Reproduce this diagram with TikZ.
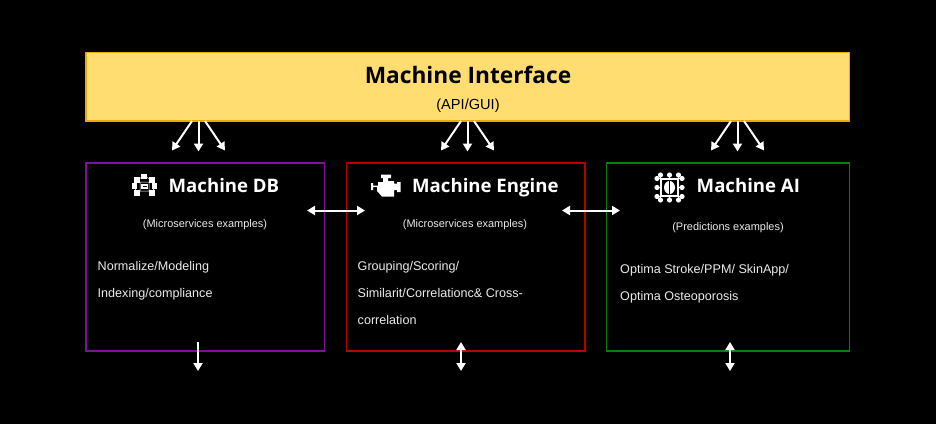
\documentclass[tikz,border=0pt]{standalone}
\usepackage{fontspec}
\setmainfont{Liberation Sans}
\newfontfamily\headfont{Open Sans}
\usetikzlibrary{arrows.meta}
\definecolor{band}{HTML}{FFDD71}
\definecolor{bandedge}{HTML}{E6AC00}
\definecolor{dbedge}{HTML}{800F9A}
\definecolor{engedge}{HTML}{B80000}
\definecolor{aiedge}{HTML}{0B7D0B}
\tikzset{
  panel/.style={draw, line width=1.9pt, minimum width=238.5pt, minimum height=188pt, anchor=north west, inner sep=0pt, outer sep=0pt},
  paneltitle/.style={text=white, font=\headfont\bfseries\fontsize{18.6}{22}\selectfont, anchor=base west, inner sep=0pt},
  subtitle/.style={text=white!92!black, font=\fontsize{10.95}{13}\selectfont, anchor=base, inner sep=0pt},
  bodytext/.style={text=white!92!black, font=\fontsize{12.6}{15}\selectfont, anchor=base west, inner sep=0pt},
  link/.style={draw=white, line width=2pt, -{Triangle[width=9pt,length=8pt]}},
  duplex/.style={draw=white, line width=2pt, {Triangle[width=9pt,length=8pt]}-{Triangle[width=9pt,length=8pt]}},
  icon/.style={fill=white, draw=none}
}
\begin{document}
\begin{tikzpicture}[x=1pt,y=-1pt]
\useasboundingbox[fill=black] (0,0) rectangle (936,424);
% interface band
\node[draw=bandedge, fill=band, line width=1.6pt, minimum width=763.5pt, minimum height=68.5pt, anchor=north west, inner sep=0pt, outer sep=0pt] (iface) at (86,52.5) {};
\node[font=\headfont\bfseries\fontsize{22.7}{26}\selectfont, text=black, anchor=base, inner sep=0pt] (ifacetitle) at (468,83) {Machine Interface};
\node[font=\fontsize{14.6}{17}\selectfont, text=black, anchor=base, inner sep=0pt] (ifacesub) at (468,109.5) {(API/GUI)};
% panels
\node[panel, draw=dbedge] (db) at (86,163) {};
\node[panel, draw=engedge] (eng) at (346.5,163) {};
\node[panel, draw=aiedge, minimum width=243pt] (ai) at (606.5,163) {};
% titles
\node[paneltitle] (dbt) at (168.5,192.7) {Machine DB};
\node[paneltitle] (engt) at (412,192.7) {Machine Engine};
\node[paneltitle] (ait) at (696.5,192.7) {Machine AI};
% subtitles
\node[subtitle] (dbs) at (205,227) {(Microservices examples)};
\node[subtitle] (engs) at (465,227) {(Microservices examples)};
\node[subtitle] (ais) at (728,230) {(Predictions examples)};
% body
\node[bodytext] (db1) at (97.5,270) {Normalize/Modeling};
\node[bodytext] (db2) at (97.5,297) {Indexing/compliance};
\node[bodytext] (eng1) at (357.5,270) {Grouping/Scoring/};
\node[bodytext] (eng2) at (357.5,297) {Similarit/Correlationc\& Cross-};
\node[bodytext] (eng3) at (357.5,324) {correlation};
\node[bodytext] (ai1) at (620,273) {Optima Stroke/PPM/ SkinApp/};
\node[bodytext] (ai2) at (620,300) {Optima Osteoporosis};
% icon: DB
\draw[white, line width=0.5pt] (137,180) -- (144,176) -- (152,180) (134,186) -- (137,193) (155,186) -- (152,193) (140,182) rectangle (149,191);
\foreach \x/\y in {144/176.5,137/180,152/180,134.5/186,154.5/186,137/193,152/193}{
  \fill[icon] (\x-2.8,\y-2.8) rectangle (\x+2.8,\y+2.8);
}
\fill[icon] (141,184) rectangle (148,189);
\fill[black] (142.5,186) rectangle (146.5,187);
% icon: engine
\fill[icon] (378,182) -- (383,182) -- (383,178) -- (381,178) -- (381,174.5) -- (391,174.5) -- (391,178) -- (388,178) -- (388,181) -- (394,181) -- (394,183.5) -- (397,183.5) -- (397,182) -- (400.5,182) -- (400.5,192) -- (397,192) -- (397,190) -- (394,190) -- (394,196.5) -- (382,196.5) -- (377,191) -- (377,187) -- (373,187) -- (373,190) -- (371,190) -- (371,183) -- (373,183) -- (373,185.5) -- (378,185.5) -- cycle;
% icon: AI chip
\foreach \x in {660.5,669.5,678.5}{
  \fill[icon] (\x,175) circle (2.6pt);
  \fill[icon] (\x,200) circle (2.6pt);
  \draw[white, line width=1.1pt] (\x,175) -- (\x,200);
}
\foreach \y in {178.5,187.5,196.5}{
  \fill[icon] (657,\y) circle (2.6pt);
  \fill[icon] (682,\y) circle (2.6pt);
  \draw[white, line width=1.1pt] (657,\y) -- (682,\y);
}
\fill[black] (661,179) rectangle (678,196);
\draw[white, line width=1.3pt] (661,179) rectangle (678,196);
\fill[icon] (669.5,187.5) ellipse (5.5pt and 6.5pt);
\fill[black] (668.8,180) rectangle (670.2,195);
% free ends
\coordinate (a1) at (172,150.5); \coordinate (a2) at (198.5,151.5); \coordinate (a3) at (225,150.5);
\coordinate (b1) at (441,150.5); \coordinate (b2) at (467.5,151.5); \coordinate (b3) at (494,150.5);
\coordinate (c1) at (711,150.5); \coordinate (c2) at (737.5,151.5); \coordinate (c3) at (764,150.5);
\coordinate (s1) at (192,121); \coordinate (s2) at (198.5,121); \coordinate (s3) at (205,121);
\coordinate (t1) at (461,121); \coordinate (t2) at (467.5,121); \coordinate (t3) at (474,121);
\coordinate (u1) at (731,121); \coordinate (u2) at (737.5,121); \coordinate (u3) at (744,121);
\draw[link] (s1) -- (a1); \draw[link] (s2) -- (a2); \draw[link] (s3) -- (a3);
\draw[link] (t1) -- (b1); \draw[link] (t2) -- (b2); \draw[link] (t3) -- (b3);
\draw[link] (u1) -- (c1); \draw[link] (u2) -- (c2); \draw[link] (u3) -- (c3);
% between panels
\coordinate (h1a) at (307,210.5); \coordinate (h1b) at (365,210.5);
\coordinate (h2a) at (562,210.5); \coordinate (h2b) at (620,210.5);
\draw[duplex] (h1a) -- (h1b);
\draw[duplex] (h2a) -- (h2b);
% below panels
\coordinate (d1a) at (198,341.5); \coordinate (d1b) at (198,371);
\coordinate (d2a) at (461,342); \coordinate (d2b) at (461,371);
\coordinate (d3a) at (730,342); \coordinate (d3b) at (730,371);
\draw[link] (d1a) -- (d1b);
\draw[duplex] (d2a) -- (d2b);
\draw[duplex] (d3a) -- (d3b);
\end{tikzpicture}
\end{document}
